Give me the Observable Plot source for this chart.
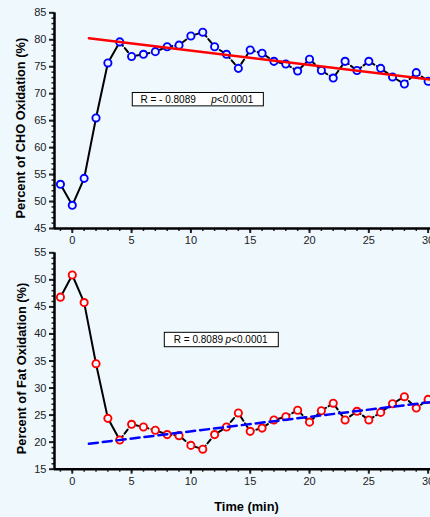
<!DOCTYPE html>
<html><head><meta charset="utf-8">
<script src="https://cdn.jsdelivr.net/npm/d3@7"></script>
<script src="https://cdn.jsdelivr.net/npm/@observablehq/plot@0.6"></script>
<style>
html,body{margin:0;padding:0;background:#eef8fd;overflow:hidden;}
#chart{width:430px;height:517px;}
#chart svg{display:block;}
</style></head><body><div id="chart"></div>
<script>
const minutes = [-1,0,1,2,3,4,5,6,7,8,9,10,11,12,13,14,15,16,17,18,19,20,21,22,23,24,25,26,27,28,29,30];
const choPercent = [53.2,49.3,54.3,65.5,75.7,79.6,76.9,77.3,77.8,78.7,79.0,80.7,81.4,78.7,77.3,74.7,78.1,77.5,76.0,75.5,74.2,76.4,74.3,72.9,76.0,74.3,76.0,74.7,73.1,71.8,73.9,72.3];
const fatPercent = [46.8,50.9,45.8,34.5,24.4,20.4,23.3,22.8,22.2,21.4,21.2,19.4,18.7,21.4,22.8,25.4,22.0,22.6,24.1,24.7,25.9,23.7,25.8,27.2,24.1,25.7,24.1,25.5,27.1,28.4,26.3,27.9];
const choFitX = [1.4, 30.2];
const choFitY = [80.3, 72.6];
const fatFitX = [1.4, 30.2];
const fatFitY = [19.7, 27.4];
const timeTicks = [0,5,10,15,20,25,30];
const choTicks = [45,50,55,60,65,70,75,80,85];
const fatTicks = [15,20,25,30,35,40,45,50,55];
const choStat = ["R = - 0.8089", "p", "<0.0001"];
const fatStat = ["R = 0.8089", "p", "<0.0001"];
const choTitle = "Percent of CHO Oxidation (%)";
const fatTitle = "Percent of Fat Oxidation (%)";
const timeTitle = "Time (min)";

const BG = "#eef8fd";
const FONT = "Arial, 'Liberation Sans', sans-serif";

function panel(o) {
  const lo = o.ticks[0], hi = o.ticks[o.ticks.length - 1];
  const solidIdx = minutes.map((m, i) => i).filter(i => minutes[i] <= 4);
  const dashIdx = minutes.map((m, i) => i).filter(i => minutes[i] >= 4);
  const marks = [
    Plot.axisY({ticks: o.ticks, tickSize: 5, tickPadding: 3, strokeWidth: 2, label: null, fontSize: 11}),
    Plot.axisY({ticks: d3.range(lo, hi + 1), tickSize: 2.5, strokeWidth: 1.5, text: null, label: null}),
    Plot.axisX({ticks: timeTicks, tickSize: 5, tickPadding: 3, strokeWidth: 2, label: null, fontSize: 11}),
    Plot.axisX({ticks: minutes, tickSize: 3, strokeWidth: 1.5, text: null, label: null}),
    Plot.ruleX([-1.5], {strokeWidth: 2.5, stroke: "black"}),
    Plot.ruleY([lo], {strokeWidth: 2.5, stroke: "black"}),
    Plot.rect([0], {x1: o.box[0], x2: o.box[1], y1: o.box[2], y2: o.box[3], fill: "white", stroke: "black", strokeWidth: 1}),
    Plot.text([o.stat[0]], {x: o.statX[0], y: o.statY, text: d => d, textAnchor: "start", fontSize: 10, fill: "black"}),
    Plot.text([o.stat[1]], {x: o.statX[1], y: o.statY, text: d => d, textAnchor: "start", fontSize: 10, fontStyle: "italic", fill: "black"}),
    Plot.text([o.stat[2]], {x: o.statX[1], y: o.statY, dx: 5.6, text: d => d, textAnchor: "start", fontSize: 10, fill: "black"}),
    Plot.line(solidIdx, {x: i => minutes[i], y: i => o.values[i], stroke: "black", strokeWidth: 2}),
    Plot.line(dashIdx, {x: i => minutes[i], y: i => o.values[i], stroke: "black", strokeWidth: 2, strokeDasharray: "5,3"}),
    Plot.dot(minutes, {x: d => d, y: (d, i) => o.values[i], r: 3.6, stroke: o.color, strokeWidth: 1.9, fill: BG}),
    Plot.line(o.fitX, {x: d => d, y: (d, i) => o.fitY[i], stroke: o.fitColor, strokeWidth: 2.5, strokeDasharray: o.fitDash}),
    Plot.text([o.title], {frameAnchor: "left", dx: o.titleDx, dy: 7.5, rotate: -90, textAnchor: "middle", lineAnchor: "middle", fontWeight: "bold", fontSize: 12.8, fill: "black", text: d => d})
  ];
  if (o.xTitle) marks.push(Plot.text([o.xTitle], {frameAnchor: "bottom", dx: 4, dy: 38, textAnchor: "middle", lineAnchor: "middle", fontWeight: "bold", fontSize: 12.8, fill: "black", text: d => d}));
  return Plot.plot({
    width: 430, height: o.height,
    marginLeft: 54, marginRight: 0, marginTop: o.marginTop, marginBottom: o.marginBottom,
    x: {domain: [-1.5, 30.2]},
    y: {domain: [lo, hi]},
    style: {background: "transparent", fontFamily: FONT, fontSize: "11px", color: "#222", overflow: "visible"},
    marks
  });
}

const choPanel = panel({
  values: choPercent, color: "#0000ff", ticks: choTicks,
  fitX: choFitX, fitY: choFitY, fitColor: "#ff0000", fitDash: null,
  box: [5.1, 16.15, 67.65, 70.13], stat: choStat, statX: [5.75, 11.71], statY: 68.9,
  title: choTitle, titleDx: -34,
  height: 248, marginTop: 12.3, marginBottom: 20
});
const fatPanel = panel({
  values: fatPercent, color: "#ff0000", ticks: fatTicks,
  fitX: fatFitX, fitY: fatFitY, fitColor: "#0000ff", fitDash: "9,5",
  box: [7.8, 17.41, 37.55, 40.21], stat: fatStat, statX: [8.56, 12.92], statY: 38.9,
  title: fatTitle, titleDx: -33, xTitle: timeTitle,
  height: 269, marginTop: 4.3, marginBottom: 48.3
});
document.getElementById("chart").append(choPanel, fatPanel);
</script>
</body></html>
